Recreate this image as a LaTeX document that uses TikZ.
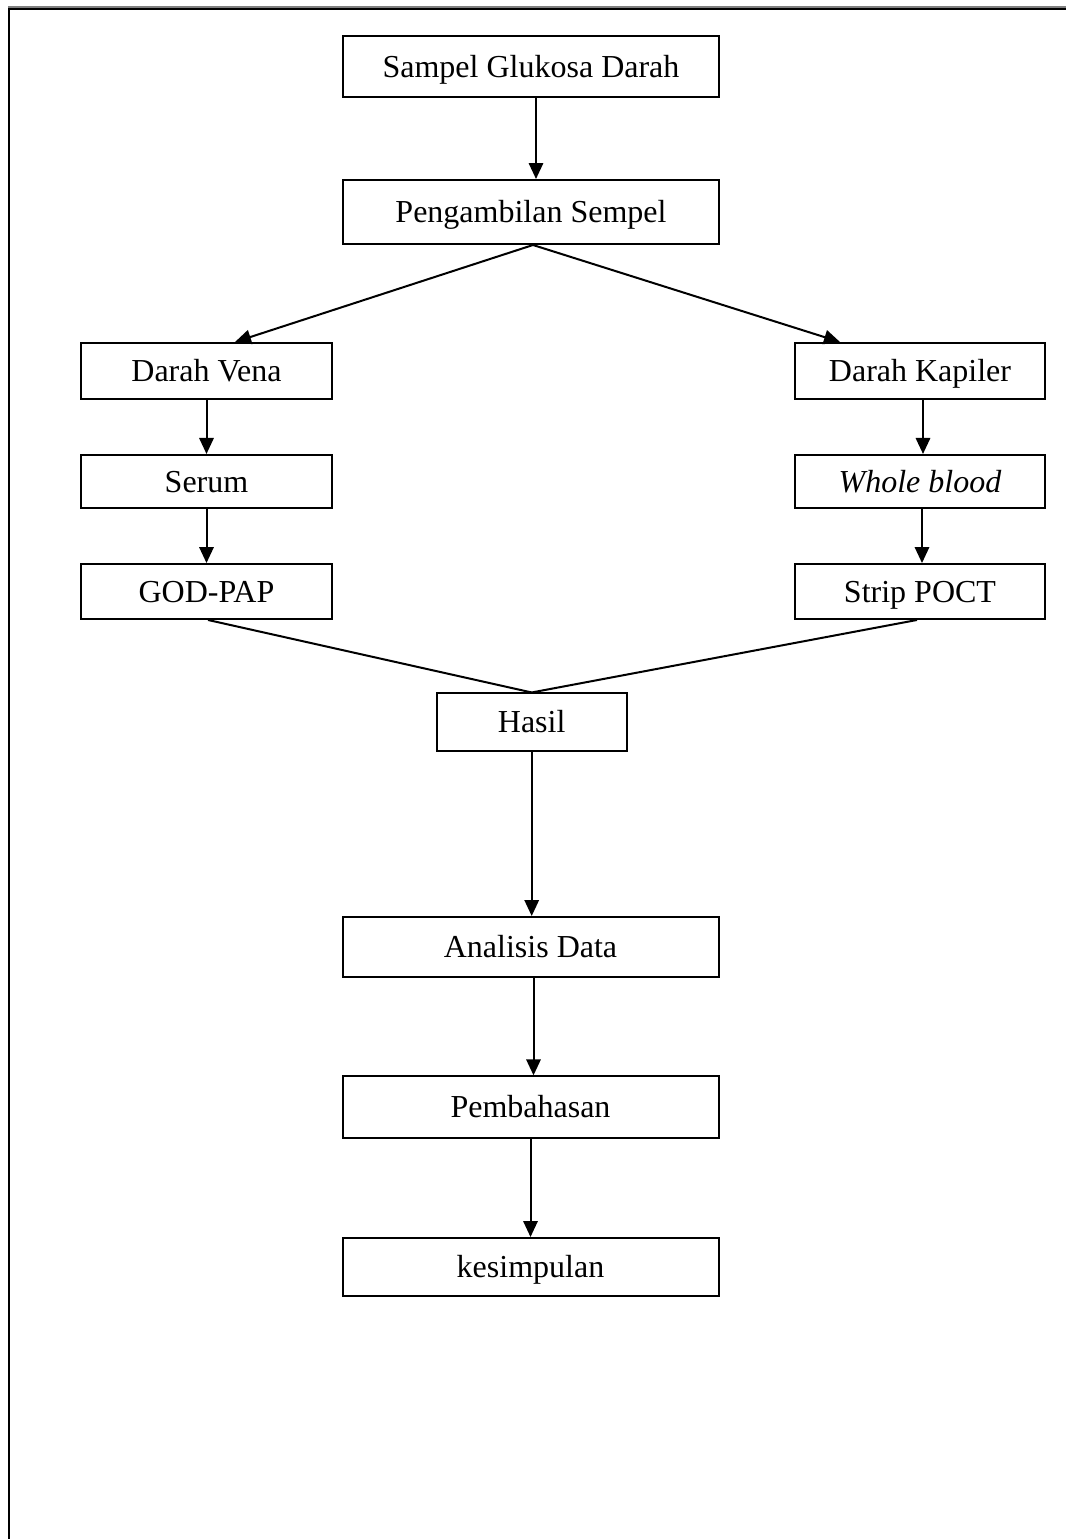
\documentclass[tikz,border=0pt]{standalone}
\usepackage{fontspec}
\setmainfont{Liberation Serif}
\usetikzlibrary{calc,arrows.meta}

\tikzset{
  kotak/.style={draw, line width=0.75pt, inner sep=0pt, text height=8pt, text depth=0pt, font=\fontsize{12pt}{14pt}\selectfont},
  lebar/.style={kotak, minimum width=141pt},
  sempit/.style={kotak, minimum width=94pt},
  panah/.style={line width=0.75pt, -{Triangle[length=6pt,width=5.4pt]}},
  garis/.style={line width=0.75pt}
}

\begin{document}
\begin{tikzpicture}[x=0.375pt, y=-0.375pt]
\useasboundingbox (0,0) rectangle (1066,1539);

% bingkai
\draw [line width=1.1pt, gray] (8,7) -- (1066,7);
\draw [line width=0.9pt] (8,9) -- (1066,9);
\draw [line width=1.1pt] (9,8) -- (9,1539);

% kotak tengah
\node [lebar, minimum height=22.9pt] (sampel) at (531,66.5) {Sampel Glukosa Darah};
\node [lebar, minimum height=24pt] (ambil) at (531,212) {Pengambilan Sempel};

% kotak kiri
\node [sempit, minimum height=21pt] (vena) at (206.5,371) {Darah Vena};
\node [sempit, minimum height=19.9pt] (serum) at (206.5,481.5) {Serum};
\node [sempit, minimum height=20.6pt] (godpap) at (206.5,591.5) {GOD-PAP};

% kotak kanan
\node [sempit, minimum height=21pt] (kapiler) at (920,371) {Darah Kapiler};
\node [sempit, minimum height=19.9pt] (whole) at (920,481.5) {\textit{Whole blood}};
\node [sempit, minimum height=20.6pt] (strip) at (920,591.5) {Strip POCT};

% kotak bawah
\node [kotak, minimum width=71.25pt, minimum height=21.4pt] (hasil) at (531.7,722) {Hasil};
\node [lebar, minimum height=22.5pt] (analisis) at (530.5,947) {Analisis Data};
\node [lebar, minimum height=23pt] (bahas) at (530.5,1107) {Pembahasan};
\node [lebar, minimum height=21.75pt] (simpul) at (530.5,1267) {kesimpulan};

% panah
\draw [panah] ($(sampel.south)+(5,0)$) -- ($(ambil.north)+(5,0)$);
\draw [panah] ($(ambil.south)+(2,0)$) -- ($(vena.north)+(28.5,0)$);
\draw [panah] ($(ambil.south)+(2,0)$) -- ($(kapiler.north)+(-80,0)$);
\draw [panah] (vena) -- (serum);
\draw [panah] (serum) -- (godpap);
\draw [panah] ($(kapiler.south)+(3,0)$) -- ($(whole.north)+(3,0)$);
\draw [panah] ($(whole.south)+(2,0)$) -- ($(strip.north)+(2,0)$);
\draw [garis] ($(godpap.south)+(1.5,0)$) -- (hasil.north);
\draw [garis] ($(strip.south)+(-3,0)$) -- (hasil.north);
\draw [panah] (hasil.south) -- (hasil.south |- analisis.north);
\draw [panah] ($(analisis.south)+(3,0)$) -- ($(bahas.north)+(3,0)$);
\draw [panah] (bahas) -- (simpul);
\end{tikzpicture}
\end{document}
